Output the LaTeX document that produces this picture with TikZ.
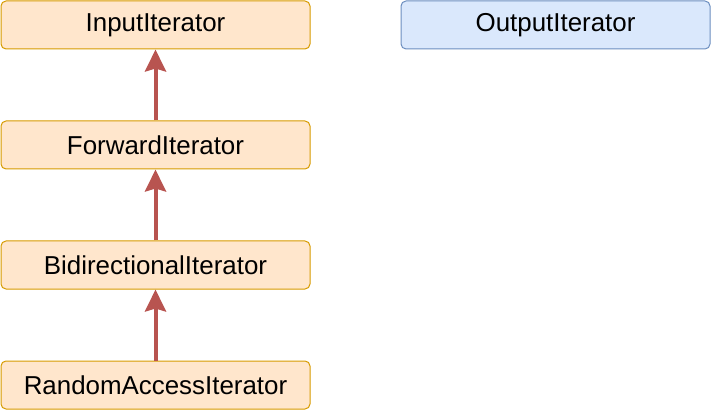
\documentclass[tikz,border=0pt]{standalone}
\usepackage{fontspec}
\setmainfont{Liberation Sans}
\usetikzlibrary{arrows.meta}

\definecolor{orangefill}{HTML}{FFE6CC}
\definecolor{orangeline}{HTML}{D79B00}
\definecolor{bluefill}{HTML}{DAE8FC}
\definecolor{blueline}{HTML}{6C8EBF}
\definecolor{redline}{HTML}{B85450}

\tikzset{
  iterbox/.style={rectangle, rounded corners=5pt, line width=1pt,
                  minimum width=309pt, minimum height=48pt, inner sep=0pt,
                  font=\fontsize{25.9}{30}\selectfont},
  inbox/.style={iterbox, draw=orangeline, fill=orangefill},
  outbox/.style={iterbox, draw=blueline, fill=bluefill},
  refines/.style={draw=redline, line width=4pt,
                  -{Stealth[length=22pt, width=21pt, inset=3pt]}}
}

\begin{document}
\begin{tikzpicture}[x=1pt, y=1pt]

\useasboundingbox (0,0) rectangle (711,-411);

\node[inbox] (InIt) at (155.5,-25) {InputIterator};
\node[inbox] (FwdIt) at (155.5,-145) {ForwardIterator};
\node[inbox] (BidIt) at (155.5,-265) {BidirectionalIterator};
\node[inbox] (RanIt) at (155.5,-385) {RandomAccessIterator};

\node[outbox] (OutIt) at (555.5,-25) {OutputIterator};

\draw[refines] (FwdIt) -- (InIt);
\draw[refines] (BidIt) -- (FwdIt);
\draw[refines] (RanIt) -- (BidIt);

\end{tikzpicture}
\end{document}
